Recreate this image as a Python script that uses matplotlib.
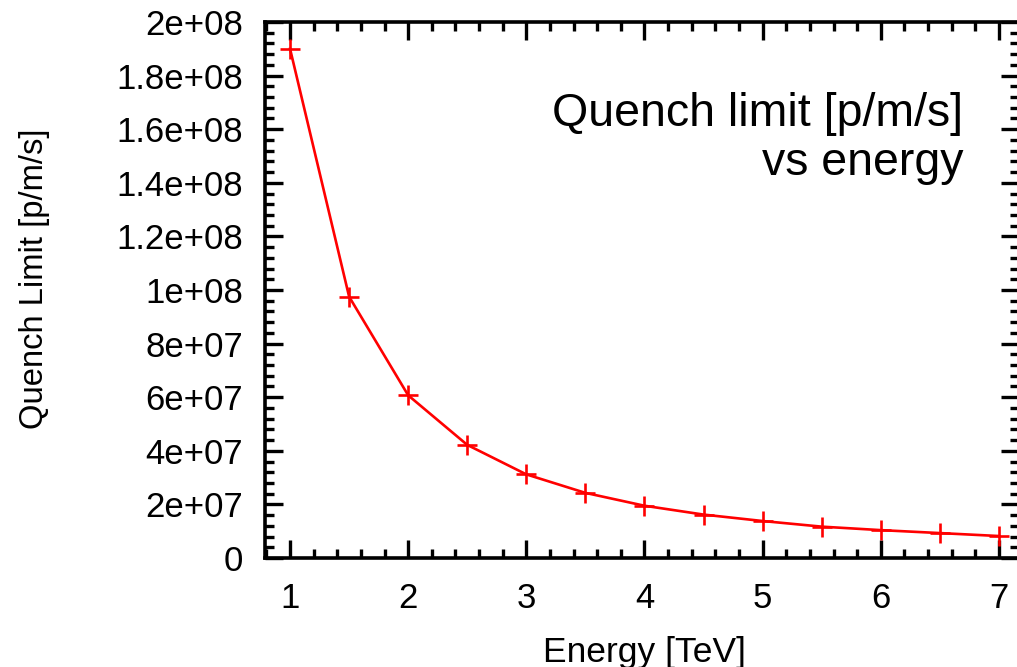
import matplotlib
matplotlib.use("Agg")
import matplotlib.pyplot as plt
from matplotlib.ticker import MultipleLocator, FuncFormatter

energy = [1, 1.5, 2, 2.5, 3, 3.5, 4, 4.5, 5, 5.5, 6, 6.5, 7]
quench = [1.90e8, 9.75e7, 6.07e7, 4.22e7, 3.12e7, 2.43e7, 1.95e7,
          1.62e7, 1.38e7, 1.17e7, 1.04e7, 9.3e6, 8.2e6]

xlabel = "Energy [TeV]"
ylabel = "Quench Limit [p/m/s]"
note = "Quench limit [p/m/s]\nvs energy"

plt.rcParams['font.family'] = ['Liberation Sans', 'DejaVu Sans']

W, H = 1017, 667
fig = plt.figure(figsize=(W / 100, H / 100), dpi=100)
left, right, top, bottom = 265, 1019, 22, 558
ax = fig.add_axes([left / W, 1 - bottom / H, (right - left) / W, (bottom - top) / H])

ax.plot(energy, quench, color='#ff0000', lw=1.9, marker='+', ms=15, mew=1.9)

ax.set_xlim(0.788, 7.17)
ax.set_ylim(0, 2e8)
ax.xaxis.set_major_locator(MultipleLocator(1))
ax.xaxis.set_minor_locator(MultipleLocator(0.2))
ax.yaxis.set_major_locator(MultipleLocator(2e7))
ax.yaxis.set_minor_locator(MultipleLocator(4e6))
ax.yaxis.set_major_formatter(FuncFormatter(lambda v, p: '%g' % v))
ax.xaxis.set_major_formatter(FuncFormatter(lambda v, p: '%g' % v))

for s in ax.spines.values():
    s.set_linewidth(2.6)
ax.tick_params(which='both', direction='in', top=True, right=True, width=2.4, labelsize=25)
ax.tick_params(which='major', length=13)
ax.tick_params(which='minor', length=6.5)
ax.tick_params(axis='x', pad=17)
ax.tick_params(axis='y', pad=16)

ax.set_xlabel(xlabel, fontsize=25.5)
ax.xaxis.set_label_coords((644 - left) / (right - left), -(662 - bottom) / (bottom - top), transform=ax.transAxes)
ax.xaxis.label.set_va('baseline')
ax.set_ylabel(ylabel, fontsize=23.6)
ax.yaxis.set_label_coords(-(265 - 50) / (right - left), (bottom - 279) / (bottom - top))

ax.text((963 - left) / (right - left), 1 - (92 - top) / (bottom - top), note,
        transform=ax.transAxes, ha='right', va='top', fontsize=33.5,
        multialignment='right', linespacing=1.15)

fig.savefig('out.png', dpi=100)
